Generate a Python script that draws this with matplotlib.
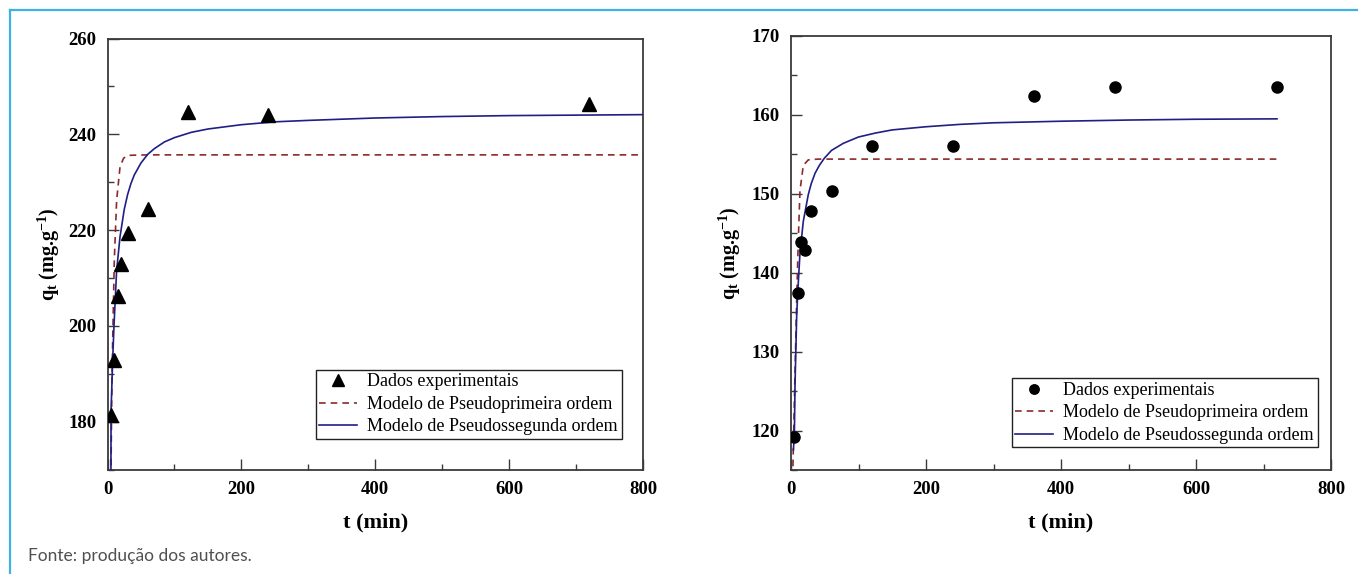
import matplotlib
matplotlib.use("Agg")
import matplotlib.pyplot as plt
from matplotlib.lines import Line2D
from matplotlib.ticker import MultipleLocator

plt.rcParams['font.family'] = ['Liberation Serif', 'DejaVu Serif']
plt.rcParams['mathtext.fontset'] = 'custom'
plt.rcParams['mathtext.rm'] = 'Liberation Serif'
plt.rcParams['mathtext.bf'] = 'Liberation Serif:bold'
plt.rcParams['mathtext.it'] = 'Liberation Serif:italic'

# ---------------- data ----------------
legend_labels = ["Dados experimentais",
                 "Modelo de Pseudoprimeira ordem",
                 "Modelo de Pseudossegunda ordem"]
x_label = "t (min)"
y_label = r"q$_\mathbf{t}$ (mg.g$^{\mathbf{-1}}$)"
source_text = "Fonte: produção dos autores."

# left panel
left_t_exp = [5, 10, 15, 20, 30, 60, 120, 240, 720]
left_q_exp = [181.4, 192.9, 206.3, 212.9, 219.4, 224.4, 244.6, 244.0, 246.4]
left_t_pfo = [5.0, 6.3, 7.6, 10.2, 13.6, 18.7, 24, 30, 60, 800]
left_q_pfo = [166, 185, 196, 213.8, 226.1, 233.2, 235.0, 235.6, 235.7, 235.7]
left_t_pso = [5.0, 5.3, 7.6, 9.7, 13.6, 18.7, 25, 30, 35, 40, 50, 60, 70, 85,
              100, 125, 150, 200, 250, 300, 400, 500, 600, 700, 800]
left_q_pso = [160, 182, 192.5, 200, 211.5, 218.6, 224.3, 227.4, 229.7, 231.5,
              234.0, 235.8, 237.0, 238.4, 239.3, 240.4, 241.1, 242.0, 242.6,
              242.9, 243.4, 243.7, 243.9, 244.0, 244.1]
left_yticks = [180, 200, 220, 240, 260]

# right panel
right_t_exp = [5, 10, 15, 20, 30, 60, 120, 240, 360, 480, 720]
right_q_exp = [119.2, 137.4, 143.9, 142.9, 147.8, 150.4, 156.1, 156.1, 162.4,
               163.6, 163.6]
right_t_pfo = [2.5, 5.9, 8.4, 10.8, 13.3, 18.2, 25.6, 40, 720]
right_q_pfo = [114, 127.2, 136.5, 144.1, 150.4, 153.6, 154.3, 154.4, 154.4]
right_t_pso = [3.5, 5, 6, 8.4, 10, 13.3, 18.2, 25.6, 30, 35.6, 42, 49.3, 60,
               77.5, 100, 125, 150, 200, 250, 300, 400, 500, 600, 720]
right_q_pso = [117.5, 119.5, 126, 134.5, 137.5, 142.5, 146.5, 149.9, 151.3,
               152.6, 153.6, 154.5, 155.5, 156.4, 157.2, 157.7, 158.1, 158.5,
               158.8, 159.0, 159.2, 159.35, 159.45, 159.5]
right_yticks = [120, 130, 140, 150, 160, 170]

xticks = [0, 200, 400, 600, 800]

# ---------------- styling ----------------
W, H = 1358, 574
DPI = 100
fig = plt.figure(figsize=(W / DPI, H / DPI), dpi=DPI)

pfo_color = '#8a2a2a'
pso_color = '#1f1f85'
spine_color = '#3a3a3a'
tick_font = dict(family='Liberation Serif', weight='bold', size=13.5)


def make_panel(rect, t_exp, q_exp, marker, msize, t_pfo, q_pfo, t_pso, q_pso,
               ylim, yticks, yminor, xlabel_y, ylabel_x, leg_anchor):
    ax = fig.add_axes(rect)
    ax.plot(t_pfo, q_pfo, linestyle=(0, (4, 3)), color=pfo_color, lw=1.2,
            label=legend_labels[1], zorder=2)
    ax.plot(t_pso, q_pso, linestyle='-', color=pso_color, lw=1.2,
            label=legend_labels[2], zorder=3)
    ax.plot(t_exp, q_exp, linestyle='none', marker=marker, ms=msize,
            color='black', label=legend_labels[0], zorder=4, clip_on=True)
    ax.set_xlim(0, 800)
    ax.set_ylim(*ylim)
    ax.set_xticks(xticks)
    ax.set_yticks(yticks)
    ax.xaxis.set_minor_locator(MultipleLocator(100))
    ax.yaxis.set_minor_locator(MultipleLocator(yminor))
    ax.tick_params(which='both', direction='in', color=spine_color, width=1.0,
                   top=False, right=False)
    ax.tick_params(which='major', length=8, pad=8)
    ax.tick_params(which='minor', length=4.5)
    for lab in ax.get_xticklabels() + ax.get_yticklabels():
        lab.set_fontproperties(tick_font)
    for s in ax.spines.values():
        s.set_color(spine_color)
        s.set_linewidth(1.3)
    ax.set_xlabel(x_label, fontsize=16, fontweight='bold')
    ax.xaxis.set_label_coords(0.5, xlabel_y)
    ax.set_ylabel(y_label, fontsize=14.5, fontweight='bold')
    ax.yaxis.set_label_coords(ylabel_x, 0.5)

    handles = [
        Line2D([], [], linestyle='none', marker=marker, ms=msize * 0.85,
               color='black'),
        Line2D([], [], linestyle=(0, (4, 3)), color=pfo_color, lw=1.2),
        Line2D([], [], linestyle='-', color=pso_color, lw=1.2),
    ]
    leg = ax.legend(handles, legend_labels, loc='lower right',
                    bbox_to_anchor=leg_anchor, frameon=True, fancybox=False,
                    framealpha=1, edgecolor='#222222', fontsize=13,
                    borderpad=0.2, labelspacing=0.3, handlelength=2.1,
                    handletextpad=0.55, borderaxespad=0)
    leg.get_frame().set_linewidth(1.0)
    return ax


axL = make_panel([107.5 / W, 1 - 469.5 / H, 535.5 / W, 431 / H],
                 left_t_exp, left_q_exp, '^', 9.5,
                 left_t_pfo, left_q_pfo, left_t_pso, left_q_pso,
                 (170, 260), left_yticks, 10, -0.099, -0.085, (0.960, 0.071))

axR = make_panel([791 / W, 1 - 470 / H, 540 / W, 434 / H],
                 right_t_exp, right_q_exp, 'o', 8,
                 right_t_pfo, right_q_pfo, right_t_pso, right_q_pso,
                 (115, 170), right_yticks, 5, -0.099, -0.089, (0.975, 0.052))

# outer light-blue frame (top and left)
frame_color = '#3db4e0'
fig.add_artist(Line2D([10 / W, 1.0], [1 - 10 / H, 1 - 10 / H],
                      color=frame_color, lw=1.6, transform=fig.transFigure))
fig.add_artist(Line2D([10 / W, 10 / W], [0, 1 - 10 / H],
                      color=frame_color, lw=1.6, transform=fig.transFigure))

fig.text(28 / W, 1 - 556 / H, source_text, fontsize=12.5, color='#505050',
         family=['Lato', 'DejaVu Sans'], va='center', ha='left')

fig.savefig('out.png', dpi=DPI, facecolor='white')
